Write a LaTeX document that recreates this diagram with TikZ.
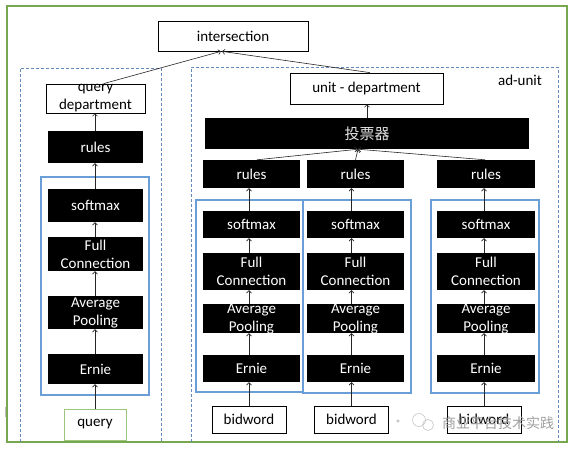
\documentclass[tikz,border=0pt]{standalone}
\usepackage{fontspec}
\setmainfont{Carlito}
\newfontfamily\cjk{Noto Sans CJK SC}
\usetikzlibrary{arrows.meta,calc}
\definecolor{frameg}{HTML}{77A84F}
\definecolor{queryg}{HTML}{9CC67C}
\definecolor{boxblue}{HTML}{6A9ED6}
\definecolor{dashblue}{HTML}{6288BE}
\begin{document}
\begin{tikzpicture}[x=1pt,y=-1pt,
  fs/.style={font=\fontsize{15}{18}\selectfont},
  blk/.style={fill=black, draw=none, inner sep=0pt, text=white, align=center, fs},
  wbox/.style={draw=black, fill=white, line width=0.7pt, inner sep=0pt, align=center, fs},
  lbl/.style={inner sep=0pt, align=center, fs},
  wlbl/.style={lbl, text=white},
  arr/.style={draw=black!85, line width=0.6pt, -{Straight Barb[length=2.5pt,width=5pt]}},
  bluebox/.style={draw=boxblue, line width=1.3pt},
  dashline/.style={draw=dashblue, line width=0.9pt, dash pattern=on 3pt off 2pt},
  ]
\useasboundingbox (0,0) rectangle (572,450);
\fill[white] (0,0) rectangle (572,450);

% outer frame and dashed groups
\draw[draw=frameg, line width=2pt] (7,6) rectangle (567,442);
\draw[dashline] (20,442) -- (20,68) -- (161,68) -- (161,442);
\draw[dashline] (191,442) -- (191,67) -- (558,67) -- (558,442);
\draw[gray!50, line width=0.6pt] (5,407) -- (5,417);
\node[fs, inner sep=0pt] (adunit) at (520,80) {ad-unit};

% top
\node[wbox, minimum width=150pt, minimum height=30pt] (inter) at (233,36) {intersection};
\node[wbox, minimum width=153pt, minimum height=31pt] (udept) at (366.5,88.5) {unit - department};
\node[fill=black, inner sep=0pt, minimum width=324pt, minimum height=31pt,
      text=white!78!gray, font=\cjk\fontsize{15}{15}\selectfont] (vote) at (367,133.5) {投票器};

% left column
\draw[bluebox] (41,177) rectangle (149,395);
\node[wbox, minimum width=99pt, minimum height=29pt, label={[lbl]center:query\\department}] (qdept) at (95.5,98.5) {};
\node[blk, minimum width=95pt, minimum height=32pt] (lrules) at (95.5,147) {rules};
\node[blk, minimum width=95pt, minimum height=33pt] (lsoft) at (95.5,205.5) {softmax};
\node[blk, minimum width=95pt, minimum height=34pt, label={[wlbl]center:Full\\Connection}] (lfull) at (95.5,254) {};
\node[blk, minimum width=95pt, minimum height=33pt, label={[wlbl]center:Average\\Pooling}] (lavg) at (95.5,312.5) {};
\node[blk, minimum width=95pt, minimum height=30pt] (lernie) at (95.5,369) {Ernie};
\node[draw=queryg, fill=white, line width=1pt, inner sep=0pt, fs, minimum width=62pt, minimum height=31pt] (query) at (95,424.5) {query};

\draw[arr] (query.north) -- (query.north |- lernie.south);
\draw[arr] (query.north |- lernie.north) -- (query.north |- lavg.south);
\draw[arr] (query.north |- lavg.north) -- (query.north |- lfull.south);
\draw[arr] (query.north |- lfull.north) -- (query.north |- lsoft.south);
\draw[arr] (query.north |- lsoft.north) -- (query.north |- lrules.south);
\draw[arr] (query.north |- lrules.north) -- (query.north |- qdept.south);

% right columns
\draw[bluebox] (196,200) rectangle (303,392);
\draw[bluebox] (303,200) rectangle (411,393);
\draw[bluebox] (431,200) rectangle (539,393);
\foreach \c/\cx/\w/\bx in {1/251.5/97/249, 2/355.5/97/351.5, 3/486/98/484} {
  \node[blk, minimum width=\w pt, minimum height=28pt] (r\c) at (\cx,174) {rules};
  \node[blk, minimum width=\w pt, minimum height=27pt] (s\c) at (\cx,224.5) {softmax};
  \node[blk, minimum width=\w pt, minimum height=37pt, label={[wlbl]center:Full\\Connection}] (f\c) at (\cx,271.5) {};
  \node[blk, minimum width=\w pt, minimum height=29pt, label={[wlbl]center:Average\\Pooling}] (a\c) at (\cx,318.5) {};
  \node[blk, minimum width=\w pt, minimum height=27pt] (e\c) at (\cx,368.5) {Ernie};
  \node[wbox, minimum width=74pt, minimum height=27pt] (b\c) at (\bx,419.5) {bidword};
  \draw[arr] (b\c.north) -- (b\c.north |- e\c.south);
  \draw[arr] (b\c.north |- e\c.north) -- (b\c.north |- a\c.south);
  \draw[arr] (b\c.north |- a\c.north) -- (b\c.north |- f\c.south);
  \draw[arr] (b\c.north |- f\c.north) -- (b\c.north |- s\c.south);
  \draw[arr] (b\c.north |- s\c.north) -- (b\c.north |- r\c.south);
}

% upper connectors
\draw[arr] ([xshift=5.5pt]r1.north) -- ([xshift=-9pt]vote.south);
\draw[arr] (r2.north) -- ([xshift=-9pt]vote.south);
\draw[arr] ([xshift=-1pt]r3.north) -- ([xshift=-9pt]vote.south);
\draw[arr] (vote.north) -- (vote.north |- udept.south);
\draw[arr] ([xshift=3.5pt]udept.north) -- ([xshift=-11pt]inter.south);
\draw[arr] ([xshift=8pt]qdept.north) -- ([xshift=-12pt]inter.south);

% watermark
\draw[gray!60, line width=0.5pt] (398,421) circle (1.2);
\draw[gray!45, line width=0.6pt] (419,420) circle (6.5);
\draw[gray!45, line width=0.6pt] (428,425) circle (5.5);
\node[text=gray!75, font=\cjk\fontsize{14}{14}\selectfont, inner sep=0pt] (wm) at (498,423) {商业平台技术实践};
\end{tikzpicture}
\end{document}
